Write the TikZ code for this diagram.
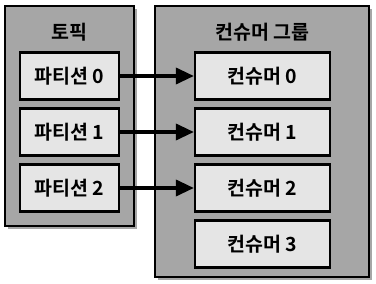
\documentclass[tikz,border=0pt]{standalone}
\usepackage{fontspec}
\newfontfamily\kr{Noto Sans CJK KR Bold}
\usetikzlibrary{arrows.meta,shadows}

\begin{document}
\begin{tikzpicture}[
  x=1pt, y=1pt,
  font=\kr\fontsize{19.5}{22}\selectfont,
  group/.style={draw, line width=2.2pt, fill=black!35,
    drop shadow={shadow xshift=3pt, shadow yshift=-3pt, fill=black!50, opacity=0.7}},
  item/.style={draw, line width=2.2pt, fill=black!10, minimum width=99pt, minimum height=47pt, inner sep=0pt},
  citem/.style={item, minimum width=135pt},
  ttl/.style={font=\kr\fontsize{19.5}{22}\selectfont},
  arr/.style={-{Triangle[length=18pt, width=16pt]}, line width=3.5pt},
]
  \useasboundingbox (0,0) rectangle (376,284);

  \node[group, minimum width=129pt, minimum height=220pt] (topic) at (69.5,168) {};
  \node[group, minimum width=214pt, minimum height=271pt] (cgroup) at (262,142.5) {};

  \node[ttl] (topicttl) at (69.5,252) {토픽};
  \node[ttl] (cgroupttl) at (262.5,252) {컨슈머 그룹};

  \node[item] (part0) at (69.5,208) {파티션 0};
  \node[item] (part1) at (69.5,152) {파티션 1};
  \node[item] (part2) at (69.5,96) {파티션 2};

  \node[citem] (cons0) at (262.5,208) {컨슈머 0};
  \node[citem] (cons1) at (262.5,152) {컨슈머 1};
  \node[citem] (cons2) at (262.5,96) {컨슈머 2};
  \node[citem] (cons3) at (262.5,40) {컨슈머 3};

  \draw[arr] (part0.east) -- (cons0.west);
  \draw[arr] (part1.east) -- (cons1.west);
  \draw[arr] (part2.east) -- (cons2.west);
\end{tikzpicture}
\end{document}
